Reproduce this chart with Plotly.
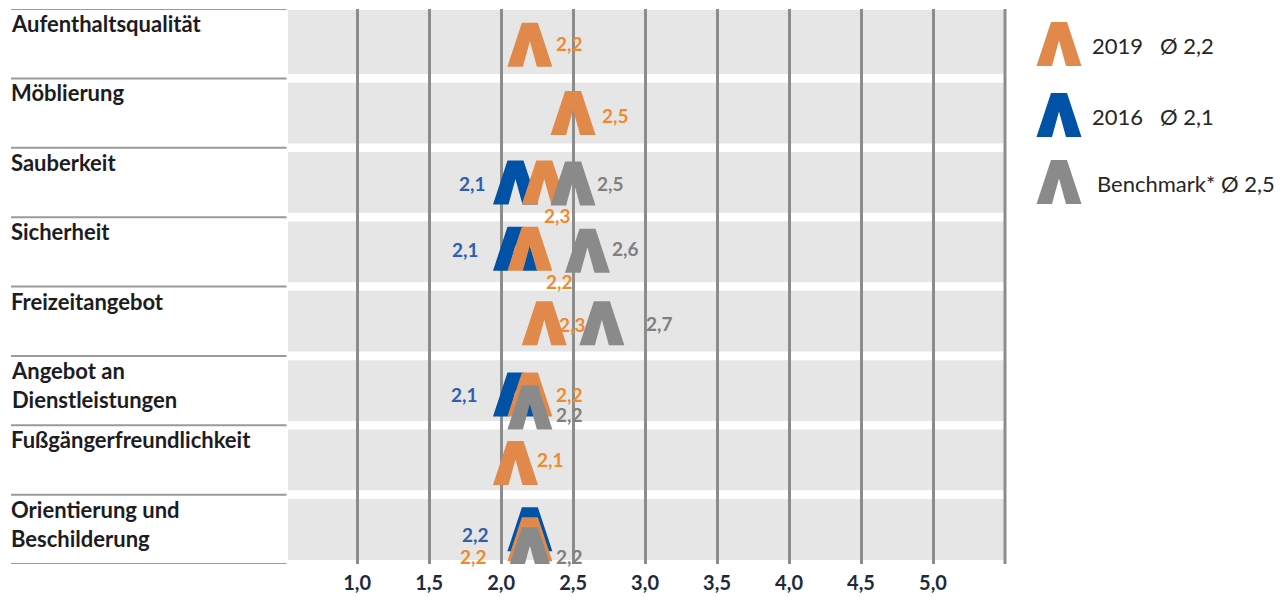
import plotly.graph_objects as go

# ---------------- data ----------------
categories = ["Aufenthaltsqualität", "Möblierung", "Sauberkeit", "Sicherheit",
              "Freizeitangebot", "Angebot an<br>Dienstleistungen",
              "Fußgängerfreundlichkeit", "Orientierung und<br>Beschilderung"]
values_2019 = [2.2, 2.5, 2.3, 2.2, 2.3, 2.2, 2.1, 2.2]
values_2016 = [None, None, 2.1, 2.1, None, 2.1, None, 2.2]
values_bench = [None, None, 2.5, 2.6, 2.7, 2.2, None, 2.2]
legend_names = ["2019", "2016", "Benchmark*"]
legend_avgs = [2.2, 2.1, 2.5]
x_ticks = [1.0, 1.5, 2.0, 2.5, 3.0, 3.5, 4.0, 4.5, 5.0]

# ---------------- layout / style ----------------
PAGE = 8                     # default body margin of the html page
W, H = 1268, 585
M_L, M_R, M_T, M_B = 280, 271, 1, 29
X_RANGE = [0.52, 5.5]
Y_RANGE = [7.5, -0.5]
PW = W - M_L - M_R
PH = H - M_T - M_B
UX = (X_RANGE[1] - X_RANGE[0]) / PW      # data units per pixel (x)
UY = (Y_RANGE[0] - Y_RANGE[1]) / PH      # data units per pixel (y)

C_ORANGE, C_BLUE, C_GRAY = "#E0894B", "#0052A6", "#8A8A8A"
T_ORANGE, T_BLUE, T_GRAY = "#F08A2E", "#2F5FAE", "#808080"
GRID = "#8C8C8C"
BAND = "#E6E6E6"
FONT = "Lato"

# Lambda glyph outline in pixels, relative to its centre (y down)
LAMBDA = [(-22.5, 22), (-8, -22), (8, -22), (22.5, 22), (7, 22), (0, -3.5), (-7, 22)]

# vertical pixel offsets of the glyphs (style), per row
dy_2019 = [1, 0, 0, -3, 2, 4, 3, 10]
dy_2016 = [0, 0, 0, -3, 0, 4, 0, 0]
dy_bench = [0, 0, 1, -1, 2, 17, 0, 20]
# label placement (anchor, dx px, dy px) per row
lab_2019 = [("left", 25, 0), ("left", 28, 2), ("center", 13, 33), ("center", 30, 30),
            ("left", 14, 3), ("left", 25, 4), ("left", 21, 0), ("right", -42, 27)]
lab_2016 = [None, None, ("right", -28, 1), ("right", -35, -2), None,
            ("right", -36, 4), None, ("right", -40, 5)]
lab_bench = [None, None, ("left", 23, 1), ("left", 24, -3), ("left", 43, 2),
             ("left", 25, 24), None, ("left", 25, 27)]


def fmt(v):
    return f"{v:.1f}".replace(".", ",")


def glyph_trace(values, dys, color, name):
    xs, ys = [], []
    for i, v in enumerate(values):
        if v is None:
            continue
        cy = i + dys[i] * UY
        pts = [(v + px * UX, cy + py * UY) for px, py in LAMBDA]
        pts.append(pts[0])
        for x, y in pts:
            xs.append(x)
            ys.append(y)
        xs.append(None)
        ys.append(None)
    return go.Scatter(x=xs, y=ys, mode="lines", fill="toself", fillcolor=color,
                      line=dict(width=0, color=color), hoverinfo="skip",
                      name=name, showlegend=False)


def px_to_paper(px, py):
    """screen pixel (page coordinates) -> paper coordinates"""
    return (px - PAGE - M_L) / PW, (H - M_B - (py - PAGE)) / PH


fig = go.Figure()
fig.add_trace(glyph_trace(values_2016, dy_2016, C_BLUE, legend_names[1]))
fig.add_trace(glyph_trace(values_2019, dy_2019, C_ORANGE, legend_names[0]))
fig.add_trace(glyph_trace(values_bench, dy_bench, C_GRAY, legend_names[2]))

annotations = []
# data labels
for values, labs, col in [(values_2016, lab_2016, T_BLUE), (values_2019, lab_2019, T_ORANGE),
                          (values_bench, lab_bench, T_GRAY)]:
    for i, v in enumerate(values):
        if v is None:
            continue
        anchor, dx, dy = labs[i]
        annotations.append(dict(x=v, y=i, xref="x", yref="y", text=fmt(v), showarrow=False,
                                xanchor=anchor, yanchor="middle", xshift=dx, yshift=-dy,
                                borderpad=0,
                                font=dict(family=FONT, size=19, color=col, weight="bold")))

# category labels
lab_x, _ = px_to_paper(9, 0)
line_x, _ = px_to_paper(11, 0)
for i, c in enumerate(categories):
    annotations.append(dict(x=lab_x, y=i - 0.5, xref="paper", yref="y", text=c, showarrow=False,
                            xanchor="left", yanchor="top", align="left", yshift=1,
                            font=dict(family=FONT, size=22, color="#1c1c22", weight="bold")))

# legend
legend_colors = [C_ORANGE, C_BLUE, C_GRAY]
legend_cy = [44, 115, 182]
legend_tx = [1090, 1090, 1095]
shapes = []
for name, avg, col, cy, tx in zip(legend_names, legend_avgs, legend_colors, legend_cy, legend_tx):
    pts = [px_to_paper(1059 + px, cy + py) for px, py in LAMBDA]
    path = "M " + " L ".join(f"{x:.5f},{y:.5f}" for x, y in pts) + " Z"
    shapes.append(dict(type="path", xref="paper", yref="paper", path=path,
                       fillcolor=col, line=dict(width=0), layer="above"))
    sep = "\u00a0\u00a0\u00a0" if name != "Benchmark*" else " "
    x, y = px_to_paper(tx, cy + 1)
    annotations.append(dict(x=x, y=y, xref="paper", yref="paper", text=f"{name}{sep}Ø {fmt(avg)}",
                            showarrow=False, xanchor="left", yanchor="middle",
                            font=dict(family=FONT, size=22, color="#262626")))

# white gaps between rows (cover the gridlines)
g = 4.3 * UY
for b in range(len(categories) - 1):
    shapes.append(dict(type="rect", xref="paper", yref="y", x0=0, x1=1, y0=b + 0.5 - g,
                       y1=b + 0.5 + g, fillcolor="white", line=dict(width=0), layer="between"))
shapes.append(dict(type="rect", xref="paper", yref="y", x0=0, x1=1, y0=7.5 - 4 * UY, y1=7.5,
                   fillcolor="white", line=dict(width=0), layer="between"))
shapes.append(dict(type="rect", xref="paper", yref="y", x0=0, x1=1, y0=-0.5, y1=-0.5 + 1 * UY,
                   fillcolor="white", line=dict(width=0), layer="between"))
# right border line
shapes.append(dict(type="line", xref="paper", yref="paper", x0=1, x1=1, y0=0, y1=1,
                   line=dict(color=GRID, width=3), layer="between"))
# label column separators
for b in range(len(categories) + 1):
    shapes.append(dict(type="line", xref="paper", yref="y", x0=line_x, x1=-0.002,
                       y0=b - 0.5, y1=b - 0.5, line=dict(color="#9A9A9A", width=2), layer="above"))

fig.update_layout(
    width=W, height=H,
    margin=dict(l=M_L, r=M_R, t=M_T, b=M_B, autoexpand=False),
    paper_bgcolor="white", plot_bgcolor=BAND,
    shapes=shapes, annotations=annotations,
    showlegend=False,
    xaxis=dict(range=X_RANGE, tickvals=x_ticks, ticktext=[fmt(t) for t in x_ticks],
               showgrid=True, gridcolor=GRID, gridwidth=3, zeroline=False, showline=False,
               ticks="", ticklabelstandoff=5, automargin=False,
               tickfont=dict(family=FONT, size=20, color="#1f2a38", weight="bold"),
               fixedrange=True),
    yaxis=dict(range=Y_RANGE, showgrid=False, zeroline=False, showline=False,
               showticklabels=False, ticks="", fixedrange=True, automargin=False),
)

fig.write_html("out.html")
